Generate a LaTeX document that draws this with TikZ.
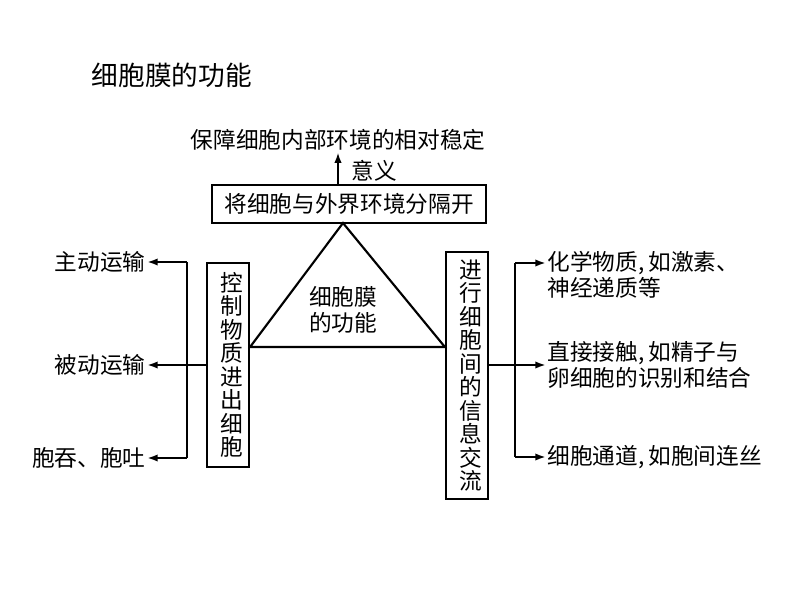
\documentclass[tikz,border=0pt]{standalone}
\usepackage{fontspec}
\setmainfont{Noto Sans CJK SC}
\usetikzlibrary{arrows,arrows.meta,calc,positioning,shapes.geometric}

\tikzset{
	box/.style={draw, line width=1.6pt, inner sep=0pt, font=\fontsize{17}{17.6}\selectfont},
	vbox/.style={box, align=center, minimum width=31.5pt, text width=1.1em},
	lbl/.style={inner sep=1pt, font=\fontsize{17}{19.5}\selectfont},
	line/.style={line width=1.6pt},
	conn/.style={line, -{Latex[length=8pt,width=5.5pt]}},
}

\begin{document}
\begin{tikzpicture}[x=0.75pt, y=-0.75pt]
		\useasboundingbox (0,0) rectangle (800,608);
		\node[anchor=west, font=\fontsize{20}{24}\selectfont] (title) at (87,75) {细胞膜的功能};
		
		\node[box, minimum width=205.5pt, minimum height=28.5pt] (sep) at (349,204) {将细胞与外界环境分隔开};
		\node[lbl] (keep) at (338,140) {保障细胞内部环境的相对稳定};
		\node[lbl, anchor=west] (mean) at (350,171) {意义};
		\draw[conn] (keep.south |- sep.north) -- (keep.south);
		
		\node[vbox, minimum height=153pt] (ctl) at (228,365) {控\\制\\物\\质\\进\\出\\细\\胞};
		\node[vbox, minimum height=185.25pt] (xchg) at (467,375.5) {进\\行\\细\\胞\\间\\的\\信\\息\\交\\流};
		
		% triangle
		\coordinate (apex) at (343,223);
		\coordinate (bl) at (ctl.east |- 0,347);
		\coordinate (br) at (xchg.west |- 0,347);
		\draw[line, line join=miter] (apex) -- (bl) -- (br) -- cycle;
		\node[lbl, align=center] (fn) at (343,310) {细胞膜\\的功能};
		
		% left side
		\node[lbl, anchor=east] (act) at (147,262) {主动运输};
		\node[lbl, anchor=east] (pas) at (147,365) {被动运输};
		\node[lbl, anchor=east] (endo) at (147,458) {胞吞、胞吐};
		\coordinate (lb) at (187,0);
		\draw[line] (act.east -| lb) -- (endo.east -| lb);
		\draw[conn] (act.east -| lb) -- (act.east);
		\draw[conn] (ctl.west |- pas.east) -- (pas.east);
		\draw[conn] (endo.east -| lb) -- (endo.east);
		
		% right side
		\node[lbl, anchor=north west, align=left] (chem) at (546,250) {化学物质,\,如激素、\\神经递质等};
		\node[lbl, anchor=west, align=left] (touch) at (546,365) {直接接触,\,如精子与\\卵细胞的识别和结合};
		\node[lbl, anchor=west] (chan) at (546,457) {细胞通道,\,如胞间连丝};
		\coordinate (rb) at (515,263);
		\draw[line] (rb) -- (rb |- chan.west);
		\draw[conn] (rb) -- (rb -| chem.west);
		\draw[conn] (xchg.east |- touch.west) -- (touch.west);
		\draw[conn] (rb |- chan.west) -- (chan.west);
	\end{tikzpicture}
\end{document}
